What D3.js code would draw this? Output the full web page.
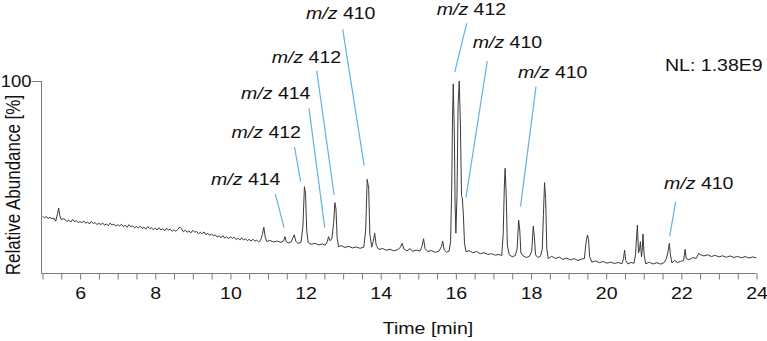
<!DOCTYPE html>
<html>
<head>
<meta charset="utf-8">
<script src="https://cdn.jsdelivr.net/npm/d3@7"></script>
<style>
  body { margin: 0; background: #fff; }
  svg { display: block; font-family: "Liberation Sans", Arial, sans-serif; }
</style>
</head>
<body>
<svg></svg>
<script>
// Chromatogram trace: retention time [min] and relative abundance [%]
const traceTime = [
  5.00, 5.05, 5.10, 5.15, 5.20, 5.25, 5.30, 5.35, 5.40, 5.43, 5.46, 5.50, 5.55,
  5.60, 5.65, 5.70, 5.75, 5.80, 5.85, 5.90, 5.95, 6.00, 6.05, 6.10, 6.15, 6.20, 6.25,
  6.30, 6.35, 6.40, 6.45, 6.50, 6.55, 6.60, 6.65, 6.70, 6.75, 6.80, 6.85, 6.90, 6.95,
  7.00, 7.05, 7.10, 7.15, 7.20, 7.25, 7.30, 7.35, 7.40, 7.45, 7.50, 7.55, 7.60, 7.65,
  7.70, 7.75, 7.80, 7.85, 7.90, 7.95, 8.00, 8.05, 8.10, 8.15, 8.20, 8.25, 8.30, 8.35,
  8.40, 8.45, 8.50, 8.55, 8.60, 8.65, 8.70, 8.75, 8.80, 8.85, 8.90, 8.95, 9.00, 9.05,
  9.10, 9.15, 9.20, 9.25, 9.30, 9.35, 9.40, 9.45, 9.50, 9.55, 9.60, 9.65, 9.70, 9.75,
  9.80, 9.85, 9.90, 9.95, 10.00, 10.05, 10.10, 10.15, 10.20, 10.25, 10.30, 10.35,
  10.40, 10.45, 10.50, 10.55, 10.60, 10.65, 10.70, 10.75, 10.80,
  10.85, 10.89, 10.93, 10.97, 11.05, 11.15, 11.25, 11.35, 11.42, 11.45, 11.49, 11.55,
  11.62, 11.67, 11.70, 11.74, 11.80, 11.88, 11.93, 11.97, 12.00, 12.03, 12.07, 12.15,
  12.25, 12.35, 12.45, 12.52, 12.58, 12.61, 12.65, 12.70, 12.75, 12.78, 12.81, 12.84,
  12.88, 12.95, 13.05, 13.15, 13.25, 13.35, 13.45, 13.55, 13.60, 13.64, 13.68, 13.71,
  13.76, 13.80, 13.84, 13.88, 13.95, 14.05, 14.15, 14.25, 14.35, 14.45, 14.52, 14.57,
  14.62, 14.70, 14.78, 14.85, 14.95, 15.05, 15.10, 15.14, 15.18, 15.25, 15.35, 15.45,
  15.55, 15.62, 15.65, 15.69, 15.75, 15.82, 15.86, 15.89, 15.91, 15.93, 15.96, 15.98,
  16.00, 16.03, 16.06, 16.09, 16.12, 16.15, 16.17, 16.20, 16.23, 16.27, 16.35, 16.45,
  16.55, 16.65, 16.75, 16.85, 16.95, 17.05, 17.15, 17.22, 17.26, 17.29, 17.31, 17.34,
  17.37, 17.42, 17.50, 17.58, 17.63, 17.67, 17.70, 17.73, 17.80, 17.88, 17.96, 18.02,
  18.06, 18.09, 18.12, 18.18, 18.25, 18.30, 18.33, 18.36, 18.39, 18.42, 18.46, 18.55,
  18.65, 18.75, 18.85, 18.95, 19.05, 19.15, 19.25, 19.35, 19.42, 19.46, 19.50, 19.53,
  19.56, 19.62, 19.72, 19.82, 19.92, 20.02, 20.12, 20.22, 20.32, 20.42, 20.46, 20.49,
  20.52, 20.58, 20.66, 20.74, 20.78, 20.83, 20.86, 20.89, 20.91, 20.94, 20.96, 20.98,
  21.01, 21.05, 21.15, 21.25, 21.35, 21.45, 21.55, 21.60, 21.64, 21.68, 21.71, 21.75,
  21.82, 21.90, 21.98, 22.06, 22.10, 22.13, 22.20, 22.30, 22.40, 22.46, 22.52, 22.60,
  22.70, 22.80, 22.90, 23.00, 23.10, 23.20, 23.30, 23.40, 23.50, 23.60, 23.70, 23.80,
  23.90, 24.00
];
const traceAbund = [
  29.2, 28.4, 29.0, 28.1, 28.6, 27.9, 28.3, 26.6, 30.5, 33.4, 29.5, 27.4, 27.9,
  27.5, 26.4, 27.2, 26.1, 27.5, 26.4, 26.9, 25.8, 26.5, 25.8, 26.7, 25.5, 26.2, 25.1,
  26.5, 25.4, 25.9, 24.8, 25.5, 24.8, 25.7, 24.5, 25.2, 24.2, 25.6, 24.6, 25.1, 24.0,
  24.8, 24.1, 25.0, 23.8, 24.5, 23.4, 24.8, 23.7, 24.2, 23.1, 23.8, 23.1, 24.0, 22.8,
  23.5, 22.4, 23.8, 22.7, 23.2, 22.1, 23.0, 22.0, 23.2, 22.0, 22.7, 21.6, 23.0, 21.9,
  22.4, 21.3, 22.1, 21.3, 22.3, 23.6, 22.6, 21.0, 21.9, 20.8, 21.6, 20.5, 21.9, 20.8,
  21.3, 20.0, 20.8, 20.0, 21.0, 19.5, 20.3, 19.1, 20.0, 18.9, 19.4, 18.3, 19.0, 17.9,
  19.0, 17.7, 18.5, 17.4, 18.5, 17.6, 18.2, 17.0, 17.7, 16.7, 17.9, 16.7,
  17.4, 16.4, 17.1, 16.2, 17.2, 16.1, 16.7, 15.8, 16.4,
  19.5, 23.4, 18.0, 16.0, 16.5, 15.7, 16.2, 15.5, 16.3, 18.5, 15.8, 15.2,
  15.8, 18.2, 19.5, 16.1, 15.0, 15.6, 24.0, 44.7, 41.0, 22.0, 15.4, 14.5,
  15.0, 14.2, 14.7, 14.0, 15.8, 18.5, 16.4, 17.3, 26.0, 36.3, 33.0, 18.0,
  13.2, 13.8, 12.9, 13.4, 12.6, 13.1, 12.4, 13.0, 22.0, 48.5, 44.0, 20.0,
  13.0, 16.0, 20.3, 14.0, 11.8, 12.3, 11.4, 11.9, 11.1, 11.7, 12.8, 15.0,
  12.0, 11.0, 12.3, 10.8, 11.5, 11.0, 13.5, 17.4, 12.2, 10.7, 11.2, 10.3,
  10.9, 13.5, 16.2, 11.5, 10.4, 10.9, 16.0, 45.0, 80.0, 98.5, 72.0, 35.0,
  20.3, 40.0, 88.0, 100, 78.0, 40.0, 39.0, 30.0, 15.0, 10.6, 11.2, 10.1,
  10.7, 9.6, 10.1, 9.2, 9.6, 8.8, 9.2, 8.5, 20.0, 45.0, 54.3, 40.0,
  14.0, 9.0, 8.0, 8.6, 12.0, 27.2, 22.0, 10.0, 8.3, 7.6, 8.3, 11.0,
  24.1, 18.0, 9.0, 7.6, 8.2, 12.0, 30.0, 46.8, 38.0, 12.0, 7.0, 8.2,
  7.1, 7.8, 6.6, 7.3, 6.3, 7.0, 6.0, 6.8, 7.0, 15.0, 19.4, 17.0,
  8.0, 5.2, 5.8, 4.9, 5.5, 4.6, 5.2, 4.4, 5.0, 4.3, 7.0, 11.5,
  6.0, 4.2, 5.0, 4.6, 9.0, 24.6, 10.0, 12.0, 15.9, 8.0, 12.0, 19.9,
  9.0, 4.3, 5.1, 4.2, 4.9, 4.1, 5.0, 7.0, 10.0, 15.0, 9.0, 4.8,
  6.0, 4.9, 5.6, 6.0, 11.9, 7.0, 6.4, 7.5, 7.2, 9.8, 9.0, 8.4,
  9.0, 8.1, 8.7, 7.9, 8.5, 7.7, 8.4, 7.6, 8.2, 7.4, 8.1, 7.3,
  7.9, 7.4
];

// Peak annotations: m/z, and where the leader line touches the trace
const annotMz = ["414", "412", "414", "412", "410", "412", "410", "410", "410"];
const annotTime = [11.43, 11.87, 12.51, 12.76, 13.56, 15.97, 16.27, 17.72, 21.69];
const annotAbund = [23.2, 47.3, 23.2, 40.3, 55.7, 104.6, 39.1, 34.2, 18.8];

// Label placement (pixels): text start x, baseline y, leader top x, y
const annotLayout = [
  [211, 185, 275.3, 194],
  [231.5, 137.5, 294.5, 147],
  [241, 99, 309, 108.3],
  [271.7, 63.3, 316.7, 70.7],
  [306, 19, 342.7, 29.3],
  [436.7, 15, 466.7, 23.3],
  [472.7, 48.3, 487.3, 61],
  [518, 77.7, 536, 86.7],
  [664, 189, 675.7, 201.7]
];

const xTicksMajor = [6, 8, 10, 12, 14, 16, 18, 20, 22, 24];
const normLevel = "NL: 1.38E9";

const W = 767, H = 341;
const stretch = 1.15;   // the text in the figure is a bit wider than plain Arial
const svg = d3.select("svg").attr("width", W).attr("height", H);

const x = d3.scaleLinear().domain([5, 24]).range([42.5, 756.5]);
const y = d3.scaleLinear().domain([0, 100]).range([272, 81]);

const axisColor = "#7a7a7a";

// x axis: minor ticks every 0.5 min, labels every 2 min
const xAxis = svg.append("g").attr("transform", "translate(0,273.5)");
xAxis.call(d3.axisBottom(x)
      .tickValues(d3.range(5, 24.01, 0.5))
      .tickSize(6)
      .tickSizeOuter(0)
      .tickFormat(d => xTicksMajor.includes(d) ? d : ""));
xAxis.select(".domain").attr("stroke", axisColor).attr("d", `M${x(5) - 1},0H${x(24)}`);
xAxis.selectAll(".tick line").attr("stroke", axisColor);
xAxis.selectAll(".tick text")
     .attr("y", 13)
     .attr("transform", `scale(${stretch},1)`)
     .attr("fill", "#111")
     .style("font-size", "17px")
     .style("font-family", "Liberation Sans, Arial, sans-serif");

// y axis: only the 100 tick
const yAxis = svg.append("g").attr("transform", "translate(41.5,0)");
yAxis.call(d3.axisLeft(y).tickValues([100]).tickSize(10).tickSizeOuter(0));
yAxis.select(".domain").attr("stroke", axisColor).attr("d", `M0,${y(100)}V273.5`);
yAxis.selectAll(".tick line").attr("stroke", axisColor);
yAxis.selectAll(".tick text")
     .attr("x", -10 / stretch)
     .attr("transform", `scale(${stretch},1)`)
     .attr("fill", "#111")
     .style("font-size", "16px")
     .style("font-family", "Liberation Sans, Arial, sans-serif");

// trace
const line = d3.line()
  .x((d, i) => x(traceTime[i]))
  .y(d => y(d));

svg.append("path")
   .datum(traceAbund)
   .attr("fill", "none")
   .attr("stroke", "#3a3a3a")
   .attr("stroke-width", 1)
   .attr("stroke-linejoin", "round")
   .attr("d", line);

// leader lines
svg.selectAll(".leader")
   .data(annotMz)
   .enter()
   .append("line")
   .attr("class", "leader")
   .attr("x1", (d, i) => annotLayout[i][2])
   .attr("y1", (d, i) => annotLayout[i][3])
   .attr("x2", (d, i) => x(annotTime[i]))
   .attr("y2", (d, i) => y(annotAbund[i]))
   .attr("stroke", "#62b2e6")
   .attr("stroke-width", 1.2);

// peak labels, "m/z" in italics
const labels = svg.selectAll(".mz")
   .data(annotMz)
   .enter()
   .append("text")
   .attr("class", "mz")
   .attr("transform", (d, i) => `translate(${annotLayout[i][0]},${annotLayout[i][1]}) scale(${stretch},1)`)
   .style("font-size", "17px")
   .attr("fill", "#111");
labels.append("tspan").style("font-style", "italic").text("m/z");
labels.append("tspan").text(d => " " + d);

// normalisation level
svg.append("text")
   .attr("transform", `translate(665,70.7) scale(${stretch},1)`)
   .style("font-size", "17px")
   .attr("fill", "#111")
   .text(normLevel);

// axis titles
svg.append("text")
   .attr("transform", `translate(19.5,185) scale(${stretch},1) rotate(-90)`)
   .attr("text-anchor", "middle")
   .style("font-size", "17px")
   .attr("fill", "#111")
   .text("Relative Abundance [%]");

svg.append("text")
   .attr("transform", `translate(428,334) scale(${stretch},1)`)
   .attr("text-anchor", "middle")
   .style("font-size", "17px")
   .attr("fill", "#111")
   .text("Time [min]");
</script>
</body>
</html>
